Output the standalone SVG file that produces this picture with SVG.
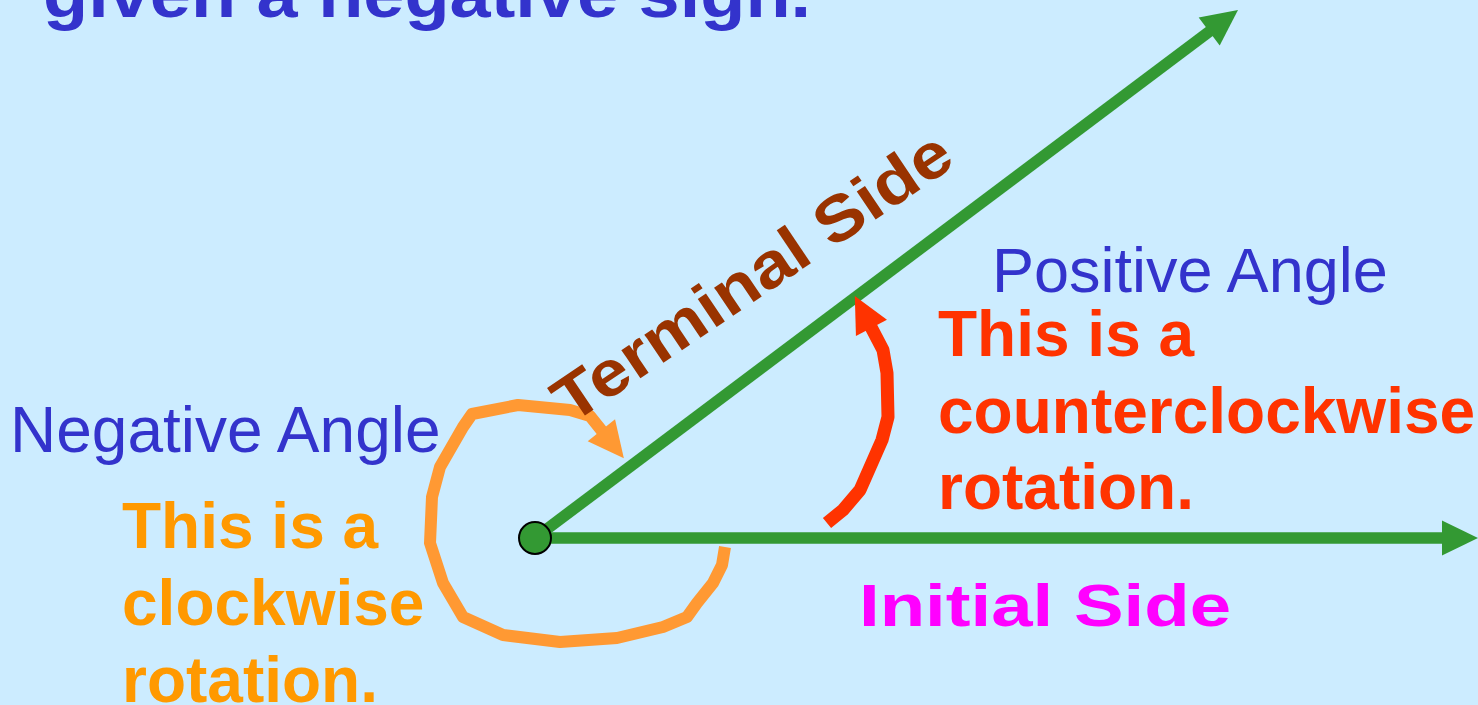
<svg xmlns="http://www.w3.org/2000/svg" width="1478" height="705" viewBox="0 0 1478 705">
<style>
.t{font-family:"Liberation Sans",Arial,sans-serif;}
.b{font-weight:bold;}
.blue{fill:#3333CC;}
.red{fill:#FF3300;}
.org{fill:#FF9900;}
.side{stroke:#339933;stroke-width:11.5;fill:none;}
</style>
<defs>
<marker id="ag" markerUnits="userSpaceOnUse" markerWidth="36" markerHeight="36" viewBox="0 -18 36 36" refX="0" refY="0" orient="auto" overflow="visible"><path d="M-1,-17.5 L35,0 L-1,17.5 Z" fill="#339933"/></marker>
<marker id="ao" markerUnits="userSpaceOnUse" markerWidth="36" markerHeight="36" viewBox="0 -18 36 36" refX="0" refY="0" orient="auto" overflow="visible"><path d="M-1,-17.5 L35,0 L-1,17.5 Z" fill="#FF9933"/></marker>
<marker id="ar" markerUnits="userSpaceOnUse" markerWidth="36" markerHeight="36" viewBox="0 -18 36 36" refX="0" refY="0" orient="auto" overflow="visible"><path d="M-1,-17.5 L35,0 L-1,17.5 Z" fill="#FF3300"/></marker>
</defs>
<rect width="1478" height="705" fill="#CCECFF"/>
<g id="title"><text class="t b blue" font-size="66" transform="translate(43,17) scale(1.12,1)">given a negative sign.</text></g>
<g id="connectors">
<path id="initial-side" class="side" d="M535,538 L1443,538" marker-end="url(#ag)"/>
<path id="terminal-side" class="side" d="M535,538 L1210,31" marker-end="url(#ag)"/>
<path id="clockwise-arc" d="M725,547 L722,565 L713,583 L697,603 L687,617 L663,627 L617,638 L560,642 L503,635 L463,617 L443,583 L430,543 L432,497 L440,467 L463,427 L472,414 L518,405 L570,410 L590,416 L602,431" fill="none" stroke="#FF9933" stroke-width="12" stroke-linejoin="round" marker-end="url(#ao)"/>
<path id="counterclockwise-arc" d="M827,523 L843,510 L860,490 L882,440 L888,417 L887,373 L883,350 L871,327" fill="none" stroke="#FF3300" stroke-width="13" stroke-linejoin="round" marker-end="url(#ar)"/>
</g>
<g id="vertex"><circle cx="535" cy="538" r="16" fill="#339933" stroke="#000" stroke-width="2"/></g>
<g id="terminal-label"><text class="t b" fill="#993300" font-size="64" transform="translate(571,425) rotate(-34) scale(1.124,1)">Terminal Side</text></g>
<g id="initial-label"><text class="t b" fill="#FF00FF" font-size="60" transform="translate(859,626) scale(1.24,1)">Initial Side</text></g>
<g id="positive-label"><text class="t blue" x="992" y="292" font-size="63">Positive Angle</text></g>
<g id="negative-label"><text class="t blue" x="10" y="452" font-size="64">Negative Angle</text></g>
<g id="ccw-note"><text class="t b red" font-size="64"><tspan x="938" y="356">This is a</tspan><tspan x="938" y="433">counterclockwise</tspan><tspan x="938" y="509">rotation.</tspan></text></g>
<g id="cw-note"><text class="t b org" font-size="64"><tspan x="122" y="548">This is a</tspan><tspan x="122" y="625">clockwise</tspan><tspan x="122" y="702">rotation.</tspan></text></g>
</svg>
